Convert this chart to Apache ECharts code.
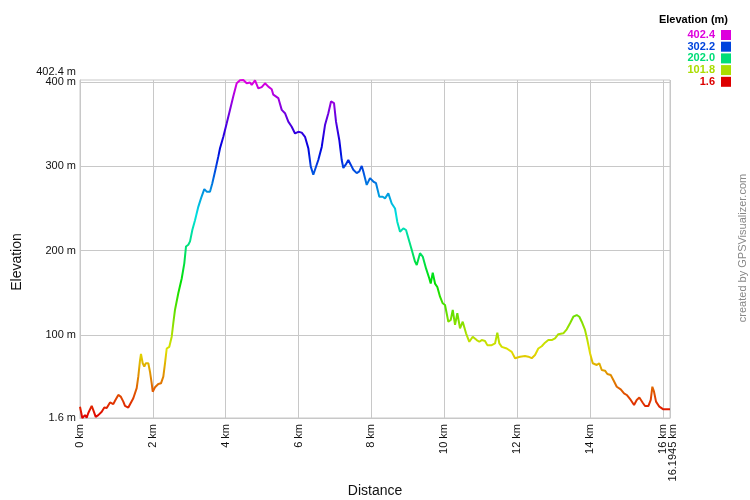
<!DOCTYPE html>
<html>
<head>
<meta charset="utf-8">
<script src="https://cdn.jsdelivr.net/npm/echarts@6/dist/echarts.min.js"></script>
<style>
html,body{margin:0;padding:0;background:#fff;}
#c{width:750px;height:500px;}
</style>
</head>
<body>
<div id="c"></div>
<script>
const distanceKm = [0,0.063,0.137,0.184,0.228,0.321,0.365,0.431,0.502,0.549,0.596,0.667,0.733,0.824,0.914,0.961,1.051,1.117,1.189,1.235,1.326,1.373,1.463,1.556,1.600,1.647,1.674,1.721,1.765,1.803,1.875,1.921,1.968,1.996,2.059,2.149,2.223,2.287,2.333,2.380,2.451,2.517,2.561,2.608,2.698,2.792,2.863,2.910,2.973,3.020,3.083,3.157,3.247,3.321,3.412,3.478,3.568,3.632,3.706,3.796,3.843,3.934,4.027,4.118,4.208,4.301,4.392,4.483,4.576,4.667,4.713,4.804,4.894,4.988,5.078,5.169,5.262,5.306,5.443,5.537,5.627,5.718,5.811,5.902,5.992,6.086,6.176,6.267,6.333,6.404,6.451,6.541,6.635,6.725,6.816,6.890,6.937,6.972,7.027,7.118,7.184,7.228,7.293,7.365,7.431,7.502,7.595,7.667,7.733,7.777,7.870,7.960,8.051,8.125,8.216,8.309,8.372,8.463,8.556,8.647,8.710,8.784,8.875,8.949,9.012,9.105,9.196,9.243,9.333,9.407,9.498,9.588,9.627,9.682,9.745,9.808,9.882,9.956,10.019,10.110,10.176,10.231,10.294,10.357,10.431,10.505,10.596,10.686,10.780,10.889,10.961,11.027,11.117,11.180,11.301,11.392,11.455,11.510,11.576,11.713,11.851,11.941,12.078,12.215,12.306,12.399,12.490,12.580,12.674,12.764,12.855,12.948,13.039,13.130,13.267,13.360,13.451,13.541,13.635,13.706,13.772,13.862,13.926,14.000,14.074,14.184,14.255,14.321,14.411,14.475,14.568,14.640,14.733,14.842,14.933,15.007,15.117,15.208,15.281,15.353,15.446,15.509,15.600,15.666,15.710,15.756,15.811,15.902,16.012,16.1945];
const elevationM = [15,1.6,5,2,7.5,16,11,3,5,3,9,14,13.5,20,18,22,29,27,21,16,14,15,25,37,50.6,70,77.5,66.5,62.5,66.5,66.5,56.5,42.7,32.8,38,42,42.7,50.6,66.5,84,86,98,114,130,149.5,167,185,205,207,211,224.5,236,252,262,273,270,270,280,294,311.5,321.5,335,351,367,383,398.5,402,402.4,398.5,399.5,396.5,402,392.5,394,398.5,394.5,391.5,385,381,367,363,353,347,339,341,340,335,321.5,300,290,290,307.5,323,349,363,377,379,375,353,331,307.5,298,302,307.5,302,296,292,294,300.5,294,278,286,282,280,264,264,262,268,256,250,234,222.5,226.5,224.5,215,201,187,183,197,193,179,167,161,174,161,157,145.5,137.6,135.6,115.8,117.8,129.7,112,125.8,108,115.8,102,92,98,94,92,94,93,88,88,90,102.8,90,86,84,80,72.5,74.3,75,74.3,72.5,76.3,84,86.7,90.9,94,94,96,101,102,106.8,114,121.7,123.7,121.7,115.8,106,94,78.3,66.5,64.5,66.5,58.5,57.7,53.8,52.6,46.7,38.7,35.6,30.9,28.9,23,17,23,26,19.7,15.8,15.8,23,38.7,32.8,21,15,11.9,11.9];

const elevMin = 1.6, elevMax = 402.4;
const distMax = 16.1945;
const xTickValues = [0, 2, 4, 6, 8, 10, 12, 14, 16];
const xEndValues = [16.1945];
const yTickValues = [1.6, 100, 200, 300, 400];
const yEndValues = [402.4];
const yGridValues = [100, 200, 300, 400];
const legendValues = [402.4, 302.2, 202.0, 101.8, 1.6];
const legendColors = ['#dd00dd', '#0044dd', '#00dd77', '#aadd00', '#dd0000'];

// hue ramp red -> magenta for the continuous colouring
const ramp = [];
for (let i = 0; i <= 20; i++) ramp.push('hsl(' + (300 * i / 20) + ',100%,44%)');

const data = distanceKm.map((d, i) => [d, elevationM[i]]);

const chart = echarts.init(document.getElementById('c'));
const font = '"Liberation Sans", Arial, sans-serif';

const graphics = [{
  type: 'text', right: 22, top: 14,
  style: { text: 'Elevation (m)', font: 'bold 11px ' + font, fill: '#000' }
}];
legendValues.forEach((v, i) => {
  const yc = 35 + i * 11.7;
  graphics.push({
    type: 'text', x: 715, y: yc,
    style: { text: v.toFixed(1), font: 'bold 11px ' + font, fill: legendColors[i], align: 'right', verticalAlign: 'middle' }
  });
  graphics.push({
    type: 'rect', shape: { x: 721, y: yc - 5, width: 10, height: 10 },
    style: { fill: legendColors[i] }
  });
});
graphics.push({
  type: 'text', x: 743, y: 248, rotation: Math.PI / 2,
  style: { text: 'created by GPSVisualizer.com', font: '11px ' + font, fill: '#888', align: 'center', verticalAlign: 'middle' }
});

const kmFmt = v => (Math.abs(v - distMax) < 1e-6 ? '16.1945' : String(v)) + ' km';
const xLabelBase = { rotate: 90, fontSize: 11, color: '#111', fontFamily: font, margin: 6, showMaxLabel: true, showMinLabel: true, hideOverlap: false };
const yLabelBase = { fontSize: 11, color: '#111', fontFamily: font, margin: 4, showMaxLabel: true, showMinLabel: true, hideOverlap: false };

chart.setOption({
  animation: false,
  backgroundColor: '#fff',
  grid: { left: 80, right: 80, top: 80, bottom: 82, show: true, borderColor: '#c8c8c8', borderWidth: 1, outerBoundsMode: 'none', containLabel: false },
  xAxis: [{
    type: 'value', min: 0, max: distMax, interval: 2,
    name: 'Distance', nameLocation: 'middle', nameGap: 66,
    nameTextStyle: { fontSize: 14, color: '#111', fontFamily: font },
    axisLine: { show: true, lineStyle: { color: '#c8c8c8' } },
    axisTick: { show: false },
    splitLine: { show: true, lineStyle: { color: '#c8c8c8', width: 1 } },
    axisLabel: Object.assign({ customValues: xTickValues, formatter: kmFmt }, xLabelBase)
  }, {
    type: 'value', min: 0, max: distMax, position: 'bottom',
    axisLine: { show: false }, axisTick: { show: false }, splitLine: { show: false },
    axisLabel: Object.assign({
      customValues: xEndValues,
      formatter: v => '{e|' + kmFmt(v) + '}',
      rich: { e: { fontSize: 11, color: '#111', fontFamily: font, padding: [5, 0, 0, 0] } }
    }, xLabelBase)
  }],
  yAxis: [{
    type: 'value', min: elevMin, max: elevMax,
    name: 'Elevation', nameLocation: 'middle', nameGap: 56, nameRotate: 90,
    nameTextStyle: { fontSize: 14, color: '#111', fontFamily: font, padding: [0, 26, 0, 0] },
    axisLine: { show: true, lineStyle: { color: '#c8c8c8' } },
    axisTick: { show: false },
    splitLine: { show: false },
    axisLabel: Object.assign({ customValues: yTickValues, formatter: v => v + ' m' }, yLabelBase)
  }, {
    type: 'value', min: elevMin, max: elevMax, position: 'left',
    axisLine: { show: false }, axisTick: { show: false }, splitLine: { show: false },
    axisLabel: Object.assign({
      customValues: yEndValues,
      formatter: v => '{t|' + v + ' m}',
      rich: { t: { fontSize: 11, color: '#111', fontFamily: font, padding: [0, 0, 16, 0] } }
    }, yLabelBase)
  }],
  visualMap: {
    show: false, type: 'continuous', dimension: 1,
    min: elevMin, max: elevMax, seriesIndex: 0,
    inRange: { color: ramp }
  },
  series: [{
    type: 'line', data: data, showSymbol: false, symbol: 'none',
    xAxisIndex: 0, yAxisIndex: 0,
    lineStyle: { width: 2 }, z: 3,
    markLine: {
      silent: true, symbol: 'none', z: 1, animation: false,
      label: { show: false },
      lineStyle: { color: '#c8c8c8', width: 1, type: 'solid' },
      emphasis: { disabled: true },
      data: yGridValues.map(v => ({ yAxis: v }))
    }
  }],
  graphic: graphics
});
</script>
</body>
</html>
